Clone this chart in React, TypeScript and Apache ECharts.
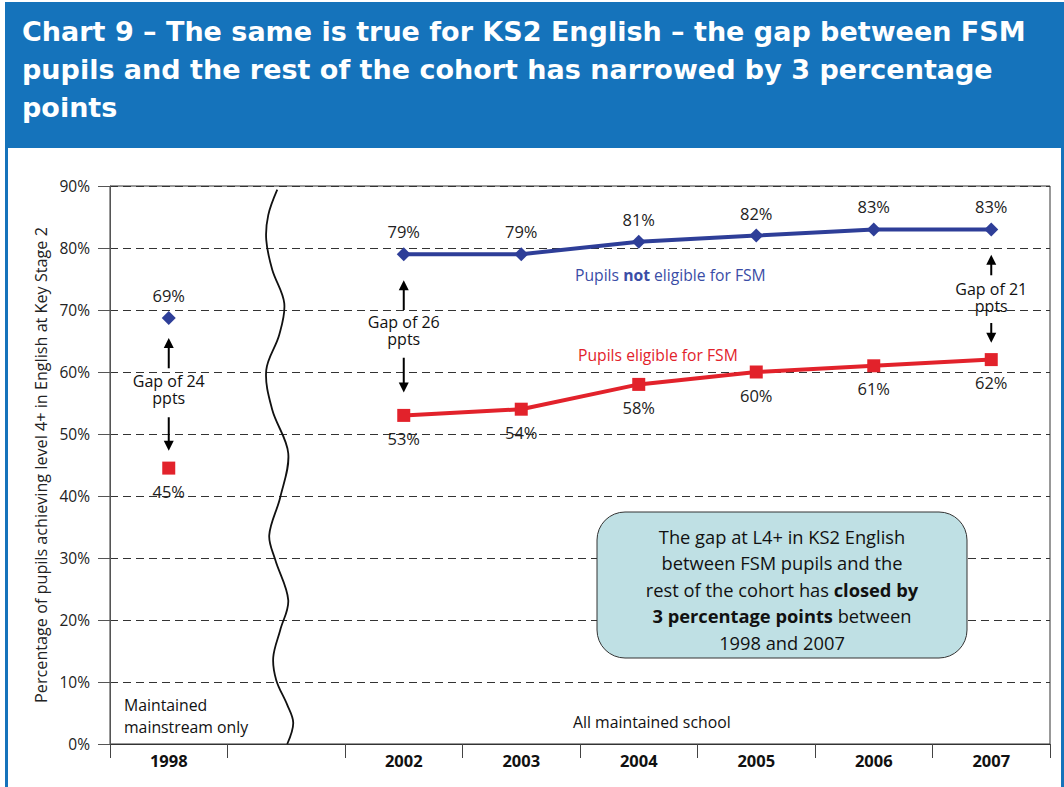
import React, { useEffect, useRef } from 'react';
import * as echarts from 'echarts';

const categories = ['1998', '', '2002', '2003', '2004', '2005', '2006', '2007'];
const notFsmValues = [68.7, null, 79, 79, 81, 82, 83, 83];
const fsmValues = [44.5, null, 53, 54, 58, 60, 61, 62];
const yMin = 0;
const yMax = 90;
const yInterval = 10;

// Gap annotations: category index, arrow values (in % on the y scale)
const gapCats = [0, 2, 7];
const gapTexts = ['Gap of 24\nppts', 'Gap of 26\nppts', 'Gap of 21\nppts'];
const gapUpFrom = [60.6, 70.0, 75.6];
const gapUpTo = [65.5, 74.8, 78.9];
const gapTextMid = [57.2, 66.7, 72.0];
const gapDownFrom = [52.7, 62.3, 67.9];
const gapDownTo = [47.3, 56.7, 64.7];

// Axis-break wave (decoration) along category index 1
const waveVals = [89.4, 85.3, 81.3, 76.5, 71.1, 66.0, 60.3, 53.9, 46.9, 39.8, 33.7, 29.7, 23.2, 18.4, 14.0, 10.3, 6.3, 3.4, 0];
const waveDx = [-9, -18, -20, -14, -2, -7, -20, -14, 2, -6, -17, -11, 2, -6, -13, -10, 1, 7, 1];

const FONT = '"Open Sans", Lato, sans-serif';
const BLUE = '#2E3E98';
const RED = '#E2222B';
const HEADER = '#1573BB';

export default function App() {
  const ref = useRef<HTMLDivElement>(null);
  useEffect(() => {
    if (!ref.current) return;
    const chart = echarts.init(ref.current, null, { renderer: 'svg' });
    const option: any = {
      animation: false,
      backgroundColor: '#fff',
      title: {
        text: 'Chart 9 – The same is true for KS2 English – the gap between FSM\npupils and the rest of the cohort has narrowed by 3 percentage\npoints',
        left: 17,
        top: 7,
        textStyle: { color: '#fff', fontSize: 27, fontWeight: 'bold', lineHeight: 38, fontFamily: '"DejaVu Sans", sans-serif' },
        z: 10,
      },
      grid: { left: 110, right: 14, top: 186, bottom: 43, show: true, borderColor: '#333', borderWidth: 1 },
      xAxis: {
        type: 'category',
        data: categories,
        boundaryGap: true,
        axisLine: { lineStyle: { color: '#333', width: 1 } },
        axisTick: { show: true, length: 14, interval: 0, lineStyle: { color: '#444' } },
        axisLabel: { interval: 0, fontSize: 16.5, fontWeight: 'bold', color: '#111', margin: 8, fontFamily: FONT },
        splitLine: { show: false },
      },
      yAxis: {
        type: 'value',
        min: yMin,
        max: yMax,
        interval: yInterval,
        name: 'Percentage of pupils achieving level 4+ in English at Key Stage 2',
        nameLocation: 'middle',
        nameGap: 60,
        nameTextStyle: { fontSize: 16.2, color: '#222', fontFamily: FONT },
        axisLine: { show: true, lineStyle: { color: '#555' } },
        axisTick: { show: true, length: 12, lineStyle: { color: '#555' } },
        axisLabel: { formatter: '{value}%', fontSize: 15.5, color: '#222', margin: 20, fontFamily: FONT },
        splitLine: { show: true, lineStyle: { type: [8, 5], color: '#333', width: 1 } },
      },
      series: [
        {
          type: 'custom',
          name: 'break',
          data: [[1, 0]],
          silent: true,
          z: 5,
          renderItem: (params: any, api: any) => {
            const pts = waveVals.map((v, i) => {
              const p = api.coord([1, v]);
              return [p[0] + waveDx[i], p[1]];
            });
            return {
              type: 'polyline',
              shape: { points: pts, smooth: 0.35 },
              style: { stroke: '#111', lineWidth: 1.8, fill: null },
            };
          },
        },
        {
          type: 'line',
          name: 'Pupils not eligible for FSM',
          data: notFsmValues,
          connectNulls: false,
          symbol: 'diamond',
          symbolSize: 14,
          lineStyle: { color: BLUE, width: 4 },
          itemStyle: { color: BLUE },
          z: 6,
          label: {
            show: true,
            position: 'top',
            distance: 7,
            formatter: (p: any) => Math.round(p.value) + '%',
            fontSize: 16.5,
            color: '#222',
            fontFamily: FONT,
          },
        },
        {
          type: 'line',
          name: 'Pupils eligible for FSM',
          data: fsmValues,
          connectNulls: false,
          symbol: 'rect',
          symbolSize: 13,
          lineStyle: { color: RED, width: 4 },
          itemStyle: { color: RED },
          z: 6,
          label: {
            show: true,
            position: 'bottom',
            distance: 8,
            formatter: (p: any) => Math.round(p.value) + '%',
            fontSize: 16.5,
            color: '#222',
            fontFamily: FONT,
          },
        },
      ],
    };
    chart.setOption(option);

    const px = (c: number, v: number) => chart.convertToPixel({ gridIndex: 0 }, [c, v]) as number[];
    const graphics: any[] = [
      { type: 'rect', shape: { x: 5, y: 2, width: 1059, height: 146 }, style: { fill: HEADER }, z: 1 },
      { type: 'rect', shape: { x: 5, y: 148, width: 3, height: 639 }, style: { fill: HEADER }, z: 1 },
      { type: 'rect', shape: { x: 1061, y: 148, width: 3, height: 639 }, style: { fill: HEADER }, z: 1 },
    ];
    gapCats.forEach((c, i) => {
      const a = px(c, gapUpFrom[i]);
      const b = px(c, gapUpTo[i]);
      const x = a[0];
      graphics.push({ type: 'line', shape: { x1: x, y1: a[1], x2: x, y2: b[1] + 8 }, style: { stroke: '#000', lineWidth: 2 }, z: 20 });
      graphics.push({ type: 'polygon', shape: { points: [[x, b[1]], [x - 5, b[1] + 10], [x + 5, b[1] + 10]] }, style: { fill: '#000' }, z: 20 });
      const d1 = px(c, gapDownFrom[i]);
      const d2 = px(c, gapDownTo[i]);
      graphics.push({ type: 'line', shape: { x1: x, y1: d1[1], x2: x, y2: d2[1] - 8 }, style: { stroke: '#000', lineWidth: 2 }, z: 20 });
      graphics.push({ type: 'polygon', shape: { points: [[x, d2[1]], [x - 5, d2[1] - 10], [x + 5, d2[1] - 10]] }, style: { fill: '#000' }, z: 20 });
      const t = px(c, gapTextMid[i]);
      graphics.push({
        type: 'text', x: x, y: t[1],
        style: { text: gapTexts[i], fill: '#111', fontSize: 16, lineHeight: 17, fontFamily: FONT, align: 'center', verticalAlign: 'middle' },
        z: 20,
      });
    });
    graphics.push({
      type: 'text', x: 575, y: 275,
      style: {
        text: 'Pupils {b|not} eligible for FSM', fill: '#3A4DA6', fontSize: 15.7, fontFamily: FONT, verticalAlign: 'middle',
        rich: { b: { fontWeight: 'bold', fill: '#3A4DA6', fontSize: 15.7, fontFamily: FONT } },
      },
      z: 20,
    });
    graphics.push({
      type: 'text', x: 578, y: 355,
      style: { text: 'Pupils eligible for FSM', fill: RED, fontSize: 15.7, fontFamily: FONT, verticalAlign: 'middle' },
      z: 20,
    });
    graphics.push({
      type: 'text', x: 124, y: 716,
      style: { text: 'Maintained\nmainstream only', fill: '#111', fontSize: 15.8, lineHeight: 22, fontFamily: FONT, verticalAlign: 'middle' },
      z: 20,
    });
    graphics.push({
      type: 'text', x: 573, y: 722,
      style: { text: 'All maintained school', fill: '#111', fontSize: 15.8, fontFamily: FONT, verticalAlign: 'middle' },
      z: 20,
    });
    graphics.push({
      type: 'rect', shape: { x: 597, y: 512, width: 370, height: 146, r: 28 },
      style: { fill: '#BFE0E4', stroke: '#333', lineWidth: 1 }, z: 30,
    });
    graphics.push({
      type: 'text', x: 782, y: 589,
      style: {
        text: 'The gap at L4+ in KS2 English\nbetween FSM pupils and the\nrest of the cohort has {b|closed by}\n{b|3 percentage points} between\n1998 and 2007',
        fill: '#111', fontSize: 18.3, lineHeight: 26.5, fontFamily: FONT, align: 'center', verticalAlign: 'middle',
        rich: { b: { fontWeight: 'bold', fill: '#111', fontSize: 18.3, lineHeight: 26.5, fontFamily: FONT } },
      },
      z: 31,
    });
    chart.setOption({ graphic: graphics });
    return () => chart.dispose();
  }, []);
  return <div ref={ref} style={{ position: 'fixed', left: 0, top: 0, width: 1064, height: 787 }} />;
}
